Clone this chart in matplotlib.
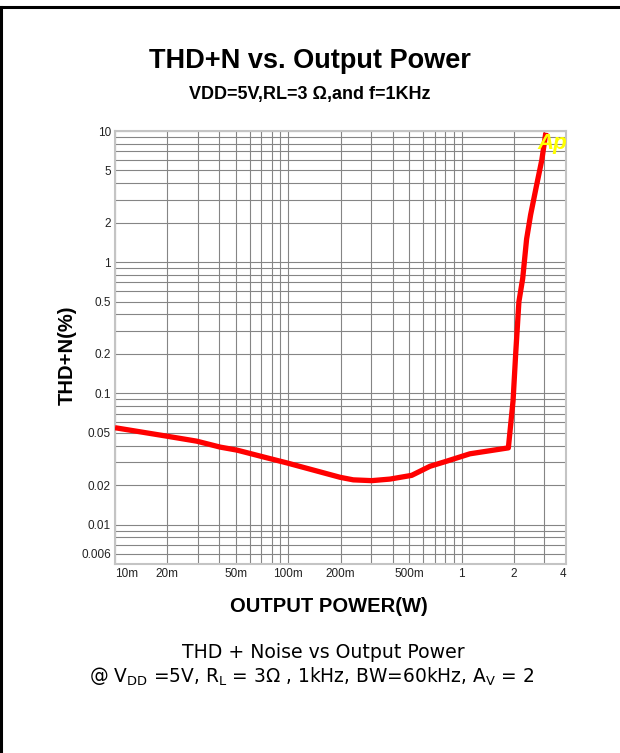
import numpy as np
import matplotlib.pyplot as plt
from matplotlib.lines import Line2D
from matplotlib.ticker import FixedLocator, FixedFormatter, LogLocator, NullFormatter

# output power (W) and THD+N (%)
power = [0.01, 0.0198, 0.0296, 0.0405, 0.0506, 0.0755, 0.098, 0.199, 0.237,
         0.303, 0.386, 0.515, 0.657, 0.82, 1.116, 1.86, 1.98, 2.05, 2.14,
         2.25, 2.37, 2.5, 2.7, 2.9, 3.06]
thd = [0.0547, 0.0472, 0.0432, 0.0389, 0.0369, 0.0322, 0.0295, 0.0229, 0.0219,
       0.0216, 0.0222, 0.0237, 0.0278, 0.0304, 0.0346, 0.0384, 0.088, 0.2, 0.5,
       0.75, 1.5, 2.3, 3.8, 6.0, 9.7]

xticks = [0.01, 0.02, 0.05, 0.1, 0.2, 0.5, 1, 2, 4]
xlabels = ['10m', '20m', '50m', '100m', '200m', '500m', '1', '2', '4']
yticks = [10, 5, 2, 1, 0.5, 0.2, 0.1, 0.05, 0.02, 0.01, 0.006]
ylabels = ['10', '5', '2', '1', '0.5', '0.2', '0.1', '0.05', '0.02', '0.01', '0.006']

plt.rcParams['font.family'] = ['Liberation Sans', 'DejaVu Sans']

fig = plt.figure(figsize=(6.2, 7.53), dpi=100)
ax = fig.add_axes([115/620, 1-564/753, 451/620, 433/753])

ax.plot(power, thd, color='#ff0000', lw=3.8, solid_capstyle='butt', zorder=3)
ax.set_xscale('log')
ax.set_yscale('log')
ax.set_xlim(0.01, 4)
ax.set_ylim(0.005, 10)

ax.xaxis.set_major_locator(FixedLocator(xticks))
ax.xaxis.set_major_formatter(FixedFormatter(xlabels))
ax.yaxis.set_major_locator(FixedLocator(yticks))
ax.yaxis.set_major_formatter(FixedFormatter(ylabels))
ax.xaxis.set_minor_locator(LogLocator(base=10, subs=np.arange(1, 10)))
ax.yaxis.set_minor_locator(LogLocator(base=10, subs=np.arange(1, 10)))
ax.xaxis.set_minor_formatter(NullFormatter())
ax.yaxis.set_minor_formatter(NullFormatter())

ax.grid(True, which='both', color='#858585', lw=0.8)
ax.tick_params(which='both', length=0, labelsize=8.5, colors='#222222', pad=3)
for s in ax.spines.values():
    s.set_color('#c4c4c4')
    s.set_linewidth(1.5)

# first and last x labels sit inside the axis ends
xt = ax.get_xticklabels()
xt[0].set_horizontalalignment('left')
xt[-1].set_horizontalalignment('right')

ax.set_xlabel('OUTPUT POWER(W)', fontsize=14.5, fontweight='bold')
ax.set_ylabel('THD+N(%)', fontsize=14.5, fontweight='bold')
ax.xaxis.set_label_coords(0.474, -0.076)
ax.yaxis.set_label_coords(-0.084, 0.483)

ax.text(0.97, 0.972, 'Ap', transform=ax.transAxes, color='#ffff00',
        fontsize=16, fontweight='bold', style='italic', ha='center', va='center', zorder=4)

fig.text(310/620, 1-61/753, 'THD+N vs. Output Power', ha='center', va='center',
         fontsize=19.5, fontweight='bold')
fig.text(310/620, 1-95/753, 'VDD=5V,RL=3 Ω,and f=1KHz', ha='center', va='center',
         fontsize=13, fontweight='bold')

cap_font = ['DejaVu Sans']
fig.text(323/620, 1-652/753, 'THD + Noise vs Output Power', ha='center', va='center',
         fontsize=13.6, family=cap_font)
fig.text(312/620, 1-677/753,
         r'@ V$_{\mathregular{DD}}$ =5V, R$_{\mathregular{L}}$ = 3Ω , 1kHz, BW=60kHz, A$_{\mathregular{V}}$ = 2',
         ha='center', va='center', fontsize=13.4, family=cap_font)

# page frame, top and left edges
fig.add_artist(Line2D([0, 1], [1-7/753, 1-7/753], color='black', lw=2.2,
                      transform=fig.transFigure))
fig.add_artist(Line2D([1/620, 1/620], [0, 1-7/753], color='black', lw=2.2,
                      transform=fig.transFigure))

fig.savefig('out.png', dpi=100)
